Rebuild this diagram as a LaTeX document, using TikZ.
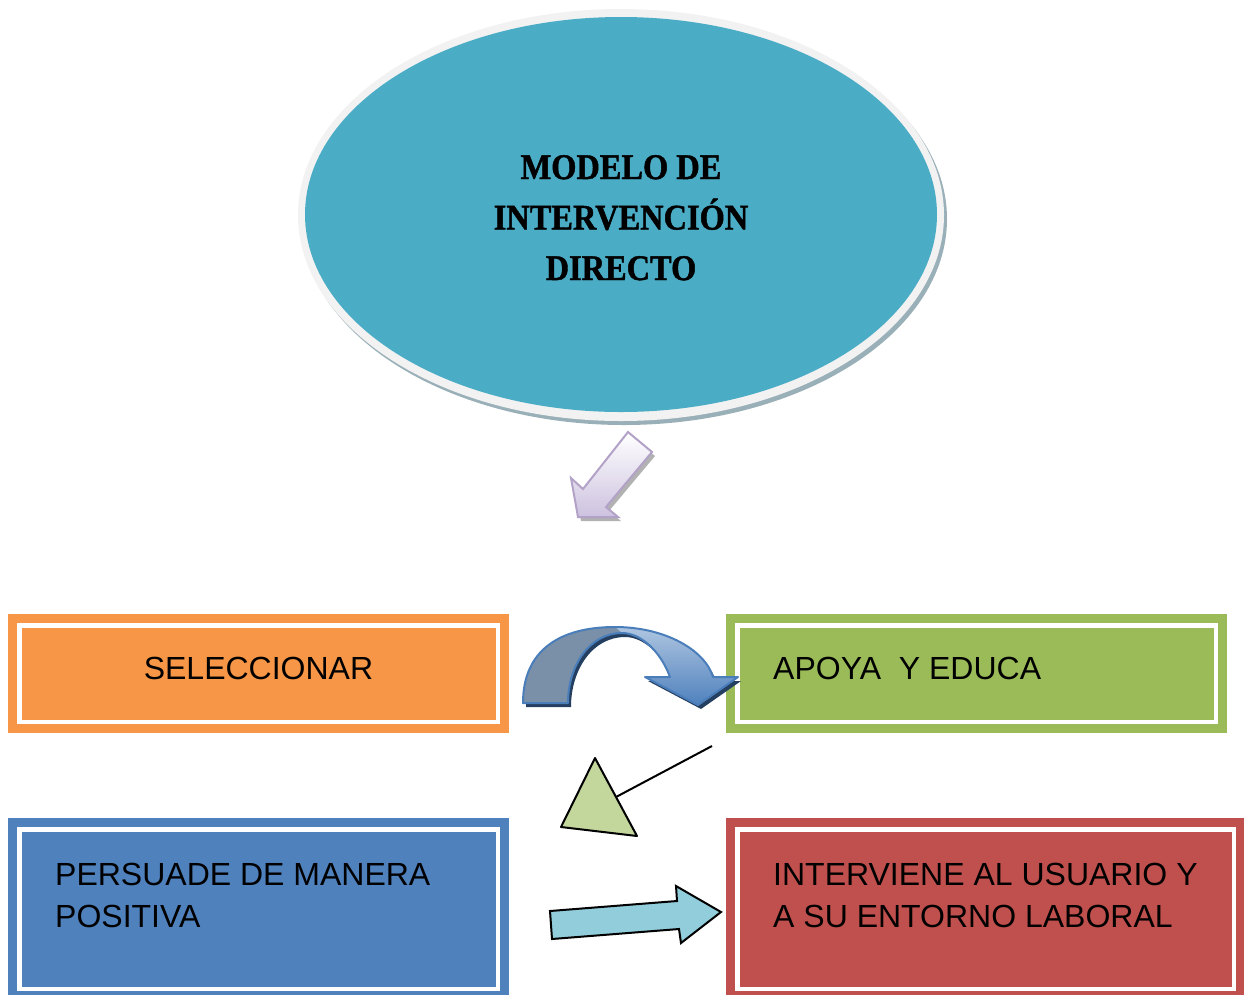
\documentclass[tikz,border=0pt]{standalone}
\usepackage{fontspec}
\usepackage{tikz}
\usetikzlibrary{shapes.geometric}
\setmainfont{Liberation Sans}
\newfontfamily\titlefont[FakeStretch=0.9, FakeBold=1.2]{Liberation Serif}
\definecolor{ellblue}{HTML}{4BACC6}
\definecolor{ringgray}{HTML}{F2F2F2}
\definecolor{ringshadow}{HTML}{9AB0B8}
\definecolor{boxorange}{HTML}{F79646}
\definecolor{boxgreen}{HTML}{9BBB59}
\definecolor{boxblue}{HTML}{4F81BD}
\definecolor{boxred}{HTML}{C0504D}
\definecolor{lilac}{HTML}{B3A2C7}
\definecolor{lilacfill}{HTML}{CDC2DF}
\definecolor{slate}{HTML}{7A8FA8}
\definecolor{arcblue}{HTML}{4A7EBB}
\definecolor{arcshadow}{HTML}{243F60}
\definecolor{trigreen}{HTML}{C3D69B}
\definecolor{arrowcyan}{HTML}{92CDDC}

\begin{document}
\begin{tikzpicture}[x=1pt, y=-1pt,
    box/.style={rectangle, draw=#1, fill=#1, line width=9pt, double=white,
        double distance=4.5pt, inner sep=0pt, minimum width=478.5pt},
    boxtext/.style={font=\fontsize{32}{42}\selectfont, align=left, inner sep=0pt}]
    \clip (0,0) rectangle (1244,994);

    % Ellipse with ring and shadow
    \fill[ringshadow] (624,219) ellipse [x radius=323, y radius=206];
    \fill[ringgray] (621,215) ellipse [x radius=323, y radius=206];
    \node[ellipse, fill=ellblue, inner sep=0pt, minimum width=632pt, minimum height=395pt]
        (modelo) at (621,214.5) {};
    \node[font=\titlefont\bfseries\fontsize{36}{50.5}\selectfont, align=center, anchor=base]
        (modeloText) at (621,280) {MODELO DE\\INTERVENCI\'ON\\DIRECTO};

    % Arrow below the ellipse
    \fill[gray!60, xshift=3pt, yshift=-4pt]
        (628,432) -- (652,452) -- (606,507) -- (618,517) -- (578,517) -- (571,478) -- (583,489) -- cycle;
    \draw[lilac, line width=2pt, top color=white, bottom color=lilacfill]
        (628,432) -- (652,452) -- (606,507) -- (618,517) -- (578,517) -- (571,478) -- (583,489) -- cycle;

    % Boxes
    \node[box=boxorange, minimum height=96.5pt] (selec) at (258.5,673.5) {};
    \node[box=boxgreen, minimum height=96.5pt] (apoya) at (976.5,673.5) {};
    \node[box=boxblue, minimum height=159.5pt] (persuade) at (258.5,909) {};
    \node[box=boxred, minimum height=159.5pt, minimum width=496.5pt] (interviene) at (985.5,909) {};

    % Box texts
    \node[boxtext, anchor=base] (selecText) at (258.5,679) {SELECCIONAR};
    \node[boxtext, anchor=base west] (apoyaText) at (773,679) {APOYA \ Y EDUCA};
    \node[boxtext, anchor=base west] (persuadeText) at (55,927) {PERSUADE DE MANERA\\POSITIVA};
    \node[boxtext, anchor=base west] (intervieneText) at (773,927) {INTERVIENE AL USUARIO Y\\A SU ENTORNO LABORAL};

    % Curved arrow
    \fill[arcshadow, xshift=3pt, yshift=-4pt]
        (523,703) .. controls (523,650) and (560,627) .. (615,627)
        .. controls (665,627) and (705,650) .. (713,677) -- (738,677) -- (698,705) -- (645,677) -- (670,677)
        .. controls (660,650) and (640,633) .. (622,633)
        .. controls (590,633) and (568,665) .. (568,703) -- cycle;
    \fill[top color=arcblue!45, bottom color=boxblue]
        (523,703) .. controls (523,650) and (560,627) .. (615,627)
        .. controls (665,627) and (705,650) .. (713,677) -- (738,677) -- (698,705) -- (645,677) -- (670,677)
        .. controls (660,650) and (640,633) .. (622,633)
        .. controls (590,633) and (568,665) .. (568,703) -- cycle;
    \fill[slate]
        (523,703) .. controls (523,650) and (560,627) .. (615,627) -- (622,633)
        .. controls (590,633) and (568,665) .. (568,703) -- cycle;
    \draw[arcblue, line width=2pt, line join=round]
        (523,703) .. controls (523,650) and (560,627) .. (615,627)
        .. controls (665,627) and (705,650) .. (713,677) -- (738,677) -- (698,705) -- (645,677) -- (670,677)
        .. controls (660,650) and (640,633) .. (622,633)
        .. controls (590,633) and (568,665) .. (568,703) -- cycle;

    % Line with triangle head
    \coordinate (lineStart) at (712,746);
    \coordinate (lineEnd) at (616,797);
    \draw[line width=2pt] (lineStart) -- (lineEnd);
    \draw[fill=trigreen, line width=2pt, line join=round] (595,758) -- (561,827) -- (637,836) -- cycle;

    % Block arrow
    \draw[fill=arrowcyan, line width=2pt]
        (550,911) -- (677,901) -- (676,886) -- (721,912) -- (681,943) -- (679,929) -- (552,939) -- cycle;
\end{tikzpicture}
\end{document}
